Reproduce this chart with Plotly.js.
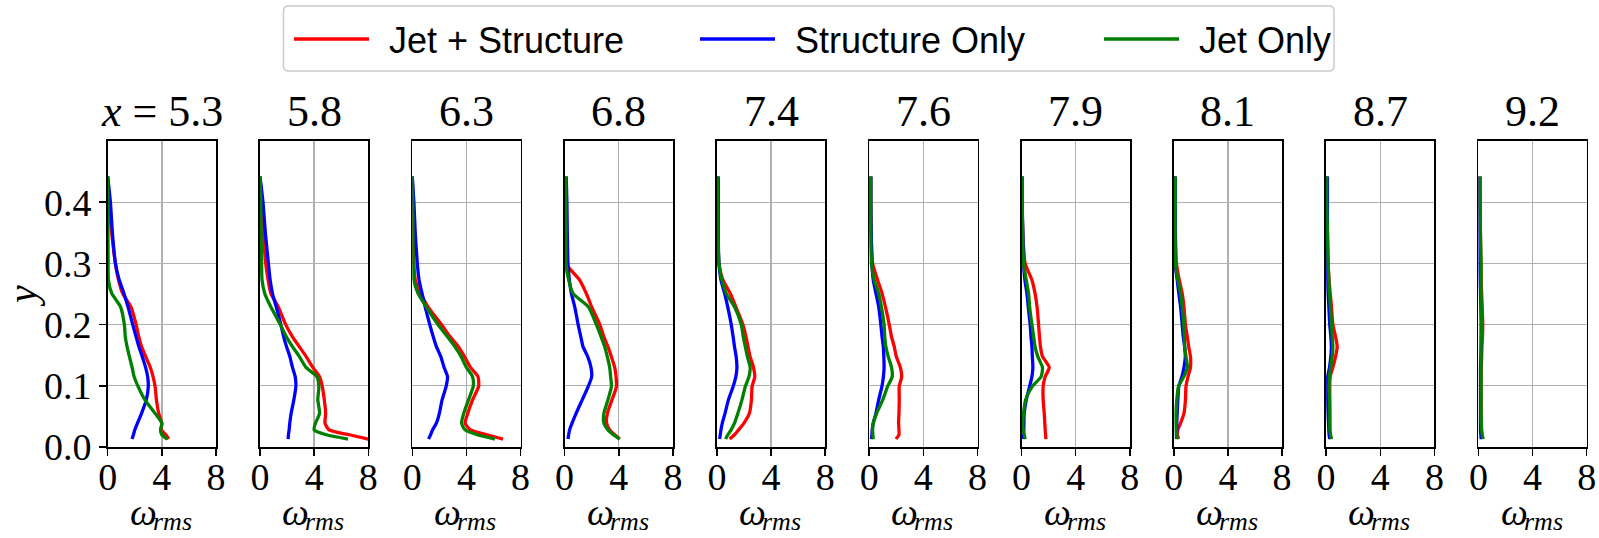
<!DOCTYPE html>
<html>
<head>
<meta charset="utf-8">
<script src="https://cdn.plot.ly/plotly-3.0.1.min.js"></script>
<style>
  html, body { margin: 0; padding: 0; background: #ffffff; }
  #chart { width: 1599px; height: 538px; }
</style>
</head>
<body>
<div id="chart"></div>
<script>
// Streamwise stations (x) where the vorticity profiles were sampled
const stations = ['5.3', '5.8', '6.3', '6.8', '7.4', '7.6', '7.9', '8.1', '8.7', '9.2'];

// Wall-normal sample heights shared by every profile (bottom to top)
const yLevels = [0.013, 0.020, 0.028, 0.039, 0.055, 0.077, 0.099, 0.115, 0.130, 0.148,
                 0.164, 0.180, 0.200, 0.229, 0.251, 0.273, 0.300, 0.349, 0.400, 0.442];

const seriesNames = ['Jet + Structure', 'Structure Only', 'Jet Only'];
const seriesColors = ['#ff0000', '#0000ff', '#008000'];

// omega_rms profiles, one array per case and station
const jetStructure_53 = [4.5, 4.3, 3.96, 4.0, 3.77, 3.6, 3.5, 3.35, 3.15, 2.8, 2.5, 2.3, 2.1, 1.72, 1.1, 0.8, 0.57, 0.3, 0.1, 0.0];
const structureOnly_53 = [1.8, 1.9, 2.0, 2.2, 2.5, 2.85, 3.0, 2.95, 2.8, 2.55, 2.3, 2.1, 1.85, 1.5, 1.2, 0.85, 0.57, 0.35, 0.2, 0.0];
const jetOnly_53 = [4.4, 4.0, 3.9, 4.0, 3.5, 2.75, 2.24, 1.95, 1.8, 1.6, 1.43, 1.3, 1.23, 0.95, 0.3, 0.05, 0.03, 0.02, 0.01, 0.0];

const jetStructure_58 = [8.0, 6.6, 5.1, 4.8, 4.85, 4.75, 4.6, 4.4, 3.9, 3.4, 2.9, 2.4, 1.9, 1.35, 0.8, 0.6, 0.42, 0.25, 0.12, 0.0];
const structureOnly_58 = [2.08, 2.1, 2.15, 2.2, 2.3, 2.5, 2.65, 2.6, 2.4, 2.2, 1.96, 1.75, 1.54, 1.2, 0.92, 0.75, 0.62, 0.4, 0.22, 0.0];
const jetOnly_58 = [6.5, 4.9, 4.0, 4.1, 4.4, 4.27, 4.35, 4.2, 3.4, 2.9, 2.4, 1.95, 1.5, 0.8, 0.35, 0.15, 0.12, 0.08, 0.05, 0.0];

const jetStructure_63 = [6.7, 5.5, 4.3, 3.9, 4.1, 4.45, 4.9, 4.85, 4.3, 3.85, 3.4, 2.8, 2.15, 1.16, 0.62, 0.22, 0.12, 0.08, 0.05, 0.0];
const structureOnly_63 = [1.2, 1.35, 1.5, 1.78, 2.0, 2.2, 2.5, 2.6, 2.35, 2.1, 1.78, 1.55, 1.29, 0.95, 0.72, 0.5, 0.37, 0.22, 0.12, 0.0];
const jetOnly_63 = [6.1, 4.8, 3.9, 3.64, 3.8, 4.15, 4.5, 4.45, 4.0, 3.6, 3.14, 2.6, 1.9, 1.03, 0.42, 0.12, 0.07, 0.05, 0.03, 0.0];

const jetStructure_68 = [4.07, 3.7, 3.33, 3.1, 3.16, 3.5, 3.83, 3.8, 3.7, 3.45, 3.2, 2.9, 2.6, 2.0, 1.6, 1.1, 0.1, 0.1, 0.1, 0.1];
const structureOnly_68 = [0.25, 0.3, 0.37, 0.55, 0.85, 1.3, 1.75, 2.0, 1.95, 1.7, 1.36, 1.2, 1.0, 0.75, 0.5, 0.35, 0.25, 0.2, 0.17, 0.12];
const jetOnly_68 = [4.07, 3.6, 3.2, 2.9, 2.9, 3.2, 3.46, 3.4, 3.33, 3.15, 2.96, 2.7, 2.35, 1.75, 0.62, 0.3, 0.1, 0.1, 0.1, 0.1];

const jetStructure_74 = [0.94, 1.3, 1.6, 2.0, 2.4, 2.55, 2.6, 2.8, 2.7, 2.45, 2.3, 2.15, 1.92, 1.4, 0.99, 0.44, 0.15, 0.08, 0.05, 0.05];
const structureOnly_74 = [0.2, 0.25, 0.3, 0.4, 0.6, 0.85, 1.2, 1.4, 1.48, 1.42, 1.3, 1.2, 1.06, 0.8, 0.57, 0.3, 0.15, 0.1, 0.1, 0.1];
const jetOnly_74 = [0.64, 0.81, 1.05, 1.3, 1.55, 1.85, 2.1, 2.37, 2.46, 2.25, 2.1, 1.95, 1.8, 1.3, 0.69, 0.37, 0.15, 0.08, 0.05, 0.05];

const jetStructure_76 = [1.98, 2.2, 2.2, 2.17, 2.2, 2.22, 2.22, 2.4, 2.3, 2.0, 1.85, 1.65, 1.48, 1.2, 0.95, 0.62, 0.25, 0.15, 0.12, 0.12];
const structureOnly_76 = [0.17, 0.2, 0.22, 0.3, 0.5, 0.7, 0.94, 1.05, 1.1, 1.08, 1.04, 0.95, 0.86, 0.7, 0.5, 0.3, 0.2, 0.15, 0.12, 0.12];
const jetOnly_76 = [0.3, 0.27, 0.25, 0.3, 0.55, 1.0, 1.36, 1.7, 1.65, 1.4, 1.23, 1.15, 1.1, 0.9, 0.7, 0.37, 0.17, 0.12, 0.12, 0.12];

const jetStructure_79 = [1.8, 1.78, 1.75, 1.72, 1.68, 1.6, 1.6, 1.75, 2.05, 1.55, 1.4, 1.33, 1.26, 1.15, 1.0, 0.77, 0.27, 0.1, 0.05, 0.05];
const structureOnly_79 = [0.15, 0.15, 0.17, 0.18, 0.2, 0.35, 0.6, 0.77, 0.84, 0.8, 0.77, 0.7, 0.64, 0.5, 0.4, 0.25, 0.15, 0.1, 0.05, 0.05];
const jetOnly_79 = [0.27, 0.2, 0.12, 0.1, 0.15, 0.3, 0.8, 1.45, 1.55, 1.2, 1.0, 0.9, 0.77, 0.6, 0.52, 0.35, 0.15, 0.08, 0.05, 0.05];

const jetStructure_81 = [0.37, 0.25, 0.3, 0.5, 0.75, 0.86, 0.9, 1.05, 1.23, 1.23, 1.1, 1.0, 0.86, 0.75, 0.62, 0.4, 0.2, 0.12, 0.1, 0.1];
const structureOnly_81 = [0.2, 0.2, 0.22, 0.22, 0.25, 0.3, 0.37, 0.6, 0.75, 0.85, 0.8, 0.7, 0.62, 0.5, 0.37, 0.25, 0.1, 0.1, 0.1, 0.1];
const jetOnly_81 = [0.25, 0.2, 0.18, 0.17, 0.17, 0.22, 0.35, 0.74, 1.0, 0.9, 0.8, 0.78, 0.74, 0.62, 0.5, 0.3, 0.12, 0.1, 0.1, 0.1];

const jetStructure_87 = [0.34, 0.3, 0.28, 0.27, 0.27, 0.27, 0.27, 0.3, 0.5, 0.7, 0.82, 0.7, 0.5, 0.4, 0.3, 0.22, 0.15, 0.1, 0.05, 0.05];
const structureOnly_87 = [0.27, 0.22, 0.2, 0.18, 0.15, 0.12, 0.12, 0.12, 0.25, 0.35, 0.39, 0.35, 0.27, 0.2, 0.15, 0.12, 0.1, 0.1, 0.1, 0.1];
const jetOnly_87 = [0.4, 0.33, 0.28, 0.27, 0.27, 0.25, 0.22, 0.25, 0.34, 0.45, 0.5, 0.45, 0.4, 0.32, 0.25, 0.2, 0.15, 0.1, 0.05, 0.05];

const jetStructure_92 = [0.3, 0.25, 0.22, 0.2, 0.2, 0.2, 0.2, 0.2, 0.22, 0.24, 0.26, 0.3, 0.32, 0.28, 0.24, 0.2, 0.18, 0.15, 0.12, 0.1];
const structureOnly_92 = [0.2, 0.18, 0.15, 0.15, 0.15, 0.15, 0.15, 0.15, 0.15, 0.18, 0.2, 0.2, 0.2, 0.18, 0.15, 0.12, 0.1, 0.1, 0.1, 0.1];
const jetOnly_92 = [0.36, 0.28, 0.24, 0.22, 0.2, 0.2, 0.2, 0.2, 0.2, 0.2, 0.2, 0.22, 0.24, 0.22, 0.2, 0.2, 0.2, 0.15, 0.12, 0.12];

const xTickVals = [0, 4, 8];
const yTickVals = [0, 0.1, 0.2, 0.3, 0.4];
const yTickText = ['0.0', '0.1', '0.2', '0.3', '0.4'];

// ---- layout helpers (pixel -> paper fraction) ----
const W = 1599, H = 538;
const px = p => p / W;
const py = p => 1 - p / H;

const profiles = [
  [jetStructure_53, structureOnly_53, jetOnly_53],
  [jetStructure_58, structureOnly_58, jetOnly_58],
  [jetStructure_63, structureOnly_63, jetOnly_63],
  [jetStructure_68, structureOnly_68, jetOnly_68],
  [jetStructure_74, structureOnly_74, jetOnly_74],
  [jetStructure_76, structureOnly_76, jetOnly_76],
  [jetStructure_79, structureOnly_79, jetOnly_79],
  [jetStructure_81, structureOnly_81, jetOnly_81],
  [jetStructure_87, structureOnly_87, jetOnly_87],
  [jetStructure_92, structureOnly_92, jetOnly_92]
];

const panelLeft0 = 107.7, panelStep = 152.3, panelWidth = 108.3;
const plotTop = 141, plotBottom = 447;

const serif = 'Liberation Serif, Times New Roman, serif';
const sans = 'Liberation Sans, Arial, sans-serif';

const traces = [];
const layout = {
  width: W, height: H,
  margin: {l: 0, r: 0, t: 0, b: 0},
  paper_bgcolor: '#ffffff',
  plot_bgcolor: '#ffffff',
  showlegend: false,
  annotations: [],
  shapes: []
};

stations.forEach((st, i) => {
  const n = i === 0 ? '' : String(i + 1);
  const left = panelLeft0 + i * panelStep;
  const mid = left + panelWidth / 2;
  profiles[i].forEach((vals, s) => {
    traces.push({
      x: vals, y: yLevels,
      xaxis: 'x' + n, yaxis: 'y' + n,
      type: 'scatter', mode: 'lines',
      name: seriesNames[s],
      line: {color: seriesColors[s], width: 3.3, shape: 'spline', smoothing: 0.6},
      hoverinfo: 'skip'
    });
  });
  layout['xaxis' + n] = {
    domain: [px(left), px(left + panelWidth)],
    anchor: 'y' + n,
    range: [0, 8], fixedrange: true,
    tickvals: xTickVals, ticktext: xTickVals.map(String),
    ticks: 'outside', ticklen: 7, tickwidth: 1.5, tickcolor: '#000000',
    ticklabelstandoff: -11,
    showline: true, mirror: true, linecolor: '#000000', linewidth: 1.7,
    showgrid: true, gridcolor: '#b0b0b0', gridwidth: 1.4, zeroline: false,
    tickfont: {family: serif, size: 38, color: '#000000'}
  };
  const yAxis = {
    domain: [py(plotBottom), py(plotTop)],
    anchor: 'x' + n,
    range: [0, 0.5], fixedrange: true,
    tickvals: yTickVals, ticktext: yTickText,
    ticks: i === 0 ? 'outside' : '', ticklen: 7, tickwidth: 1.5, tickcolor: '#000000',
    showticklabels: i === 0,
    showline: true, mirror: true, linecolor: '#000000', linewidth: 1.7,
    showgrid: true, gridcolor: '#b0b0b0', gridwidth: 1.4, zeroline: false,
    tickfont: {family: serif, size: 38, color: '#000000'}
  };
  if (i === 0) {
    yAxis.title = {text: 'y', font: {family: serif, size: 40, color: '#000000', style: 'italic'}, standoff: 12};
  }
  layout['yaxis' + n] = yAxis;

  // station label above each panel
  layout.annotations.push({
    xref: 'paper', yref: 'paper',
    x: px(mid), y: py(138),
    xanchor: 'center', yanchor: 'bottom',
    text: i === 0 ? '<i>x</i> = ' + st : st,
    showarrow: false,
    font: {family: serif, size: 44, color: '#000000'}
  });

  // x-axis label: omega with "rms" subscript
  layout.annotations.push({
    xref: 'paper', yref: 'paper',
    x: px(mid - 34), y: py(535),
    xanchor: 'left', yanchor: 'bottom',
    text: 'ω', showarrow: false,
    font: {family: serif, size: 38, color: '#000000', style: 'italic'}
  });
  layout.annotations.push({
    xref: 'paper', yref: 'paper',
    x: px(mid - 11), y: py(537.5),
    xanchor: 'left', yanchor: 'bottom',
    text: 'rms', showarrow: false,
    font: {family: serif, size: 26, color: '#000000', style: 'italic'}
  });
});

// Legend box across the top
const lgL = 283.5, lgR = 1334, lgT = 6, lgB = 71, rad = 5;
layout.shapes.push({
  type: 'path', xref: 'paper', yref: 'paper',
  path: `M${px(lgL + rad)},${py(lgT)} L${px(lgR - rad)},${py(lgT)} Q${px(lgR)},${py(lgT)} ${px(lgR)},${py(lgT + rad)} ` +
        `L${px(lgR)},${py(lgB - rad)} Q${px(lgR)},${py(lgB)} ${px(lgR - rad)},${py(lgB)} ` +
        `L${px(lgL + rad)},${py(lgB)} Q${px(lgL)},${py(lgB)} ${px(lgL)},${py(lgB - rad)} ` +
        `L${px(lgL)},${py(lgT + rad)} Q${px(lgL)},${py(lgT)} ${px(lgL + rad)},${py(lgT)} Z`,
  line: {color: '#cccccc', width: 1.5},
  fillcolor: 'rgba(255,255,255,0.8)'
});
const legendItems = [
  {x0: 294, x1: 369, tx: 387},
  {x0: 700, x1: 775, tx: 793},
  {x0: 1104, x1: 1179, tx: 1197}
];
const lgMid = 39;
legendItems.forEach((it, s) => {
  layout.shapes.push({
    type: 'line', xref: 'paper', yref: 'paper',
    x0: px(it.x0), x1: px(it.x1), y0: py(lgMid), y1: py(lgMid),
    line: {color: seriesColors[s], width: 3.3}
  });
  layout.annotations.push({
    xref: 'paper', yref: 'paper',
    x: px(it.tx), y: py(lgMid + 2),
    xanchor: 'left', yanchor: 'middle',
    text: seriesNames[s], showarrow: false,
    font: {family: sans, size: 36, color: '#000000'}
  });
});

Plotly.newPlot('chart', traces, layout, {staticPlot: true, displayModeBar: false});
</script>
</body>
</html>
